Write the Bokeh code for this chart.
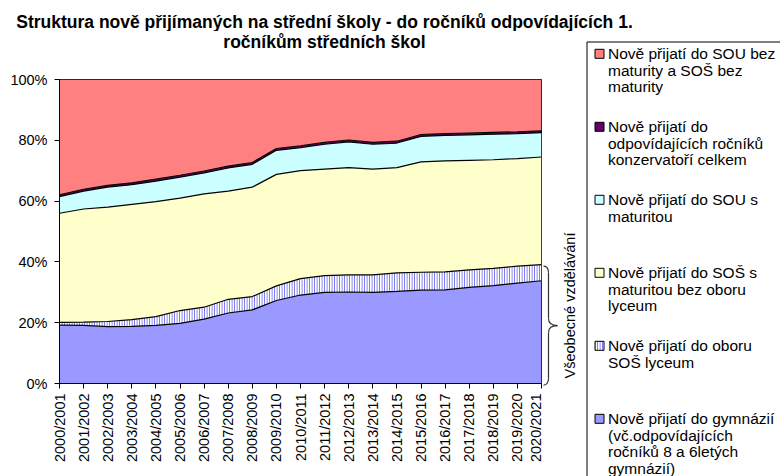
import math
from bokeh.plotting import figure
from bokeh.models import ColumnDataSource, Range1d, FixedTicker
from bokeh.layouts import row, column
from bokeh.transform import stack
from bokeh.core.properties import value
from bokeh.embed import file_html
from bokeh.resources import INLINE

# ---------------- data (shares in %) ----------------
categories = ["2000/2001", "2001/2002", "2002/2003", "2003/2004", "2004/2005",
              "2005/2006", "2006/2007", "2007/2008", "2008/2009", "2009/2010",
              "2010/2011", "2011/2012", "2012/2013", "2013/2014", "2014/2015",
              "2015/2016", "2016/2017", "2017/2018", "2018/2019", "2019/2020",
              "2020/2021"]
gymnazia = [19.2, 19.1, 18.7, 18.8, 19.1, 19.8, 21.2, 23.2, 24.2, 27.3, 29.1,
            30.0, 30.1, 30.0, 30.3, 30.7, 30.8, 31.6, 32.2, 33.0, 33.8]
lyceum = [0.9, 1.1, 1.7, 2.2, 2.9, 4.2, 3.9, 4.5, 4.4, 4.8, 5.4,
          5.5, 5.6, 5.7, 6.1, 5.9, 5.9, 5.8, 5.7, 5.6, 5.3]
sos_maturita = [35.9, 37.2, 37.6, 37.9, 37.8, 37.0, 37.3, 35.6, 36.0, 36.7, 35.5,
                35.0, 35.3, 34.8, 34.6, 36.3, 36.5, 36.0, 35.7, 35.4, 35.4]
sou_maturita = [5.5, 5.9, 6.6, 6.5, 6.8, 6.9, 6.9, 7.6, 7.5, 7.9, 7.6,
                8.2, 8.5, 8.2, 8.1, 8.4, 8.4, 8.4, 8.4, 8.2, 8.0]
konzervatore = [0.6, 0.6, 0.6, 0.6, 0.6, 0.6, 0.6, 0.6, 0.6, 0.6, 0.6,
                0.6, 0.6, 0.6, 0.6, 0.6, 0.6, 0.6, 0.6, 0.6, 0.6]
bez_maturity = [37.9, 36.1, 34.8, 34.0, 32.8, 31.5, 30.1, 28.5, 27.3, 22.7, 21.8,
                20.7, 19.9, 20.7, 20.3, 18.1, 17.8, 17.6, 17.4, 17.2, 16.9]

y_ticks = [0, 20, 40, 60, 80, 100]
y_tick_labels = ["0%", "20%", "40%", "60%", "80%", "100%"]

title_lines = ["Struktura nově přijímaných na střední školy - do ročníků odpovídajících 1.",
               "ročníkům středních škol"]
brace_label = "Všeobecné vzdělávání"

# stacking order bottom -> top
keys = ["gym", "lyc", "sos", "sou", "kon", "bez"]
colors = ["#9999FF", "#FFFFFF", "#FFFFCC", "#CCFFFF", "#660066", "#FF8080"]
legend_lines = {
    "bez": ["Nově přijatí do SOU bez", "maturity a SOŠ bez", "maturity"],
    "kon": ["Nově přijatí do", "odpovídajících ročníků", "konzervatoří celkem"],
    "sou": ["Nově přijatí do SOU s", "maturitou"],
    "sos": ["Nově přijatí do SOŠ s", "maturitou bez oboru", "lyceum"],
    "lyc": ["Nově přijatí do oboru", "SOŠ lyceum"],
    "gym": ["Nově přijatí do gymnázií", "(vč.odpovídajících", "ročníků 8 a 6letých", "gymnázií)"],
}
HATCH_COLOR = "#7070F0"

src = ColumnDataSource(dict(
    x=list(range(len(categories))),
    gym=gymnazia, lyc=lyceum, sos=sos_maturita, sou=sou_maturita,
    kon=konzervatore, bez=bez_maturity,
))

FONT = "Liberation Sans"
W, H = 780, 476
W1 = 543           # width of the chart column
S1 = 31            # full-width strip holding title line 1
S2 = 21            # strip above the chart holding title line 2
FL, FR, FT, FB = 59, 541, 79, 383   # plot frame edges in page px
N = len(categories) - 1


def blank(width, height, y0=0):
    f = figure(width=width, height=height, output_backend="svg", toolbar_location=None,
               x_range=Range1d(0, width), y_range=Range1d(y0 + height, y0),
               x_axis_type=None, y_axis_type=None,
               min_border_left=0, min_border_right=0, min_border_top=0, min_border_bottom=0)
    f.outline_line_color = None
    f.background_fill_color = "white"
    f.border_fill_color = "white"
    f.xgrid.visible = False
    f.ygrid.visible = False
    f.frame_align = False
    return f


# ---------------- title (y measured from page top) ----------------
TITLE_CX = 324
TITLE_MID = [21.0, 41.0]
TITLE_SIZE = "17.5px"
t1 = blank(W, S1, 0)
t1.text(x=[TITLE_CX], y=[TITLE_MID[0]], text=[title_lines[0]],
        text_align="center", text_baseline="middle",
        text_font=value(FONT), text_font_style="bold", text_font_size=TITLE_SIZE,
        text_color="black")
t2 = blank(W1, S2, S1)
t2.text(x=[TITLE_CX], y=[TITLE_MID[1]], text=[title_lines[1]],
        text_align="center", text_baseline="middle",
        text_font=value(FONT), text_font_style="bold", text_font_size=TITLE_SIZE,
        text_color="black")

# ---------------- main chart ----------------
TOP = S1 + S2
p = figure(width=W1, height=H - TOP, output_backend="svg", toolbar_location=None,
           x_range=Range1d(0, N), y_range=Range1d(0, 100),
           min_border_left=FL, min_border_right=W1 - FR,
           min_border_top=FT - TOP, min_border_bottom=H - FB)
p.frame_align = False
p.background_fill_color = "white"
p.border_fill_color = "white"
p.outline_line_color = "black"
p.outline_line_width = 1
p.xgrid.visible = False
p.ygrid.visible = False

for i, k in enumerate(keys):
    y1 = stack(*keys[:i]) if i > 0 else 0
    y2 = stack(*keys[:i + 1])
    if k == "lyc":
        p.varea(x="x", y1=y1, y2=y2, source=src, fill_color="white",
                hatch_pattern="vertical_line", hatch_color=HATCH_COLOR,
                hatch_scale=2.5, hatch_weight=1.2)
    else:
        p.varea(x="x", y1=y1, y2=y2, source=src, fill_color=colors[i])

for i in range(len(keys) - 1):
    p.line(x="x", y=stack(*keys[:i + 1]), source=src, line_color="black", line_width=1.2)

for ax in (p.xaxis[0], p.yaxis[0]):
    ax.axis_line_color = "black"
    ax.major_tick_line_color = "black"
    ax.minor_tick_line_color = None
    ax.major_tick_in = 0
    ax.major_tick_out = 5
    ax.major_label_text_font = FONT
    ax.major_label_text_font_size = "14.5px"
    ax.major_label_text_color = "black"

p.xaxis.ticker = FixedTicker(ticks=list(range(len(categories))))
p.xaxis.major_label_overrides = {i: c for i, c in enumerate(categories)}
p.xaxis.major_label_orientation = math.pi / 2
p.xaxis.major_label_standoff = 5
p.yaxis.ticker = FixedTicker(ticks=y_ticks)
p.yaxis.major_label_overrides = {t: l for t, l in zip(y_ticks, y_tick_labels)}
p.yaxis.major_label_standoff = 7

# ---------------- side panel: brace, label, legend (y measured from page top) ----------------
W2 = W - W1
q = blank(W2, H - S1, S1)

# brace spanning the general-education part (gymnázia + lyceum) at the last year
top_val = gymnazia[-1] + lyceum[-1]
b_top = FT + (100 - top_val) / 100 * (FB - FT) + 1
b_bot = FB + 2
b_mid = (b_top + b_bot) / 2
x0 = FR - W1 - 1
xv = x0 + 8
xt = x0 + 17
q.bezier(
    x0=[x0, xv, xv, xt, xv, xv],
    y0=[b_top, b_top + 7, b_mid - 7, b_mid, b_mid + 7, b_bot - 7],
    x1=[xv, xv, xt, xv, xv, x0],
    y1=[b_top + 7, b_mid - 7, b_mid, b_mid + 7, b_bot - 7, b_bot],
    cx0=[x0 + 6, xv, xv, xt - 6, xv, xv],
    cy0=[b_top, b_top + 7, b_mid - 2, b_mid, b_mid + 7, b_bot - 2],
    cx1=[xv, xv, xt - 6, xv, xv, x0 + 6],
    cy1=[b_top + 2, b_mid - 7, b_mid, b_mid + 2, b_bot - 7, b_bot],
    line_color="#333333", line_width=1.2)

q.text(x=[26], y=[305], text=[brace_label], angle=math.pi / 2,
       text_align="center", text_baseline="middle",
       text_font=value(FONT), text_font_size="14.5px", text_color="black")

# legend frame (continues past the right and bottom edges)
LX, LY = 43.5, 41.5
q.line(x=[W2 + 10, LX, LX], y=[LY, LY, H + 10], line_color="black", line_width=1)

ITEM0, ITEM_STEP, LINE_STEP = 53.3, 73.0, 16.5
order = list(reversed(keys))
sq_x, sq_y, sq_c = [], [], []
tx, ty, tt = [], [], []
for i, k in enumerate(order):
    yc = ITEM0 + ITEM_STEP * i
    if k == "lyc":
        q.rect(x=[56], y=[yc], width=9, height=9, fill_color="white",
               hatch_pattern="vertical_line", hatch_color=HATCH_COLOR,
               hatch_scale=2.5, hatch_weight=1.2, line_color="black", line_width=1)
    else:
        sq_x.append(56)
        sq_y.append(yc)
        sq_c.append(colors[keys.index(k)])
    for j, ln in enumerate(legend_lines[k]):
        tx.append(64.5)
        ty.append(yc + LINE_STEP * j)
        tt.append(ln)
q.rect(x=sq_x, y=sq_y, width=9, height=9, fill_color=sq_c, line_color="black", line_width=1)
q.text(x=tx, y=ty, text=tt, text_align="left", text_baseline="middle",
       text_font=value(FONT), text_font_size="15.5px", text_color="black")

layout = column(t1, row(column(t2, p), q))
open("out.html", "w").write(file_html(layout, INLINE))
